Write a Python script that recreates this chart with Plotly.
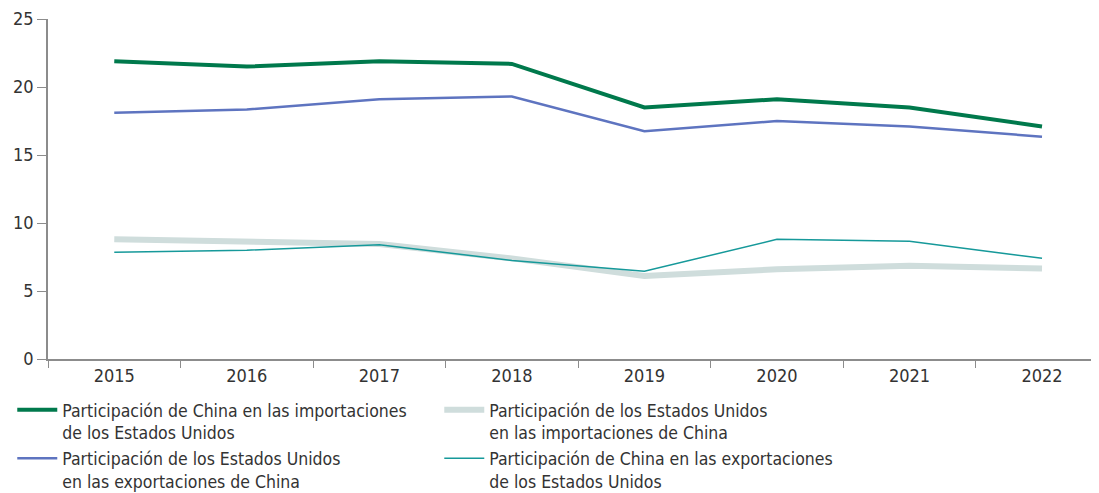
import plotly.graph_objects as go

years = ["2015", "2016", "2017", "2018", "2019", "2020", "2021", "2022"]

china_in_us_imports = [21.9, 21.5, 21.9, 21.7, 18.5, 19.1, 18.5, 17.1]
us_in_china_imports = [8.8, 8.65, 8.45, 7.4, 6.1, 6.6, 6.85, 6.65]
us_in_china_exports = [18.1, 18.35, 19.1, 19.3, 16.75, 17.5, 17.1, 16.35]
china_in_us_exports = [7.85, 8.0, 8.4, 7.25, 6.45, 8.8, 8.65, 7.4]

names = [
    "Participación de China en las importaciones<br>de los Estados Unidos",
    "Participación de los Estados Unidos<br>en las importaciones de China",
    "Participación de los Estados Unidos<br>en las exportaciones de China",
    "Participación de China en las exportaciones<br>de los Estados Unidos",
]

font_name = "DejaVu Sans Condensed, Liberation Sans Narrow, sans-serif"

fig = go.Figure()
# gray line first so the teal one sits on top of it
fig.add_trace(go.Scatter(x=years, y=us_in_china_imports, mode="lines", name=names[1],
                         legendrank=2, line=dict(color="#cfdddc", width=6)))
fig.add_trace(go.Scatter(x=years, y=china_in_us_imports, mode="lines", name=names[0],
                         legendrank=1, line=dict(color="#00794c", width=4)))
fig.add_trace(go.Scatter(x=years, y=us_in_china_exports, mode="lines", name=names[2],
                         legendrank=3, line=dict(color="#5e74c0", width=2.5)))
fig.add_trace(go.Scatter(x=years, y=china_in_us_exports, mode="lines", name=names[3],
                         legendrank=4, line=dict(color="#16999a", width=1.5)))

# the page body adds an 8px margin, so the figure is sized to fit the window
fig.update_layout(
    width=1091, height=485,
    margin=dict(l=40, r=0, t=11, b=134, autoexpand=False),
    paper_bgcolor="white", plot_bgcolor="white",
    font=dict(family=font_name, size=18, color="#333333"),
    showlegend=True,
    legend=dict(orientation="h", x=-0.034, xanchor="left", y=-0.097, yanchor="top",
                entrywidth=372, entrywidthmode="pixels", valign="top",
                font=dict(size=17.5, color="#333333"),
                traceorder="normal", tracegroupgap=0, itemwidth=40),
    xaxis=dict(type="category", range=[-0.5, 7.43], showgrid=False, automargin=False,
               showline=True, linecolor="#8c8c8c", linewidth=1.5,
               ticks="outside", tickson="boundaries", ticklen=7, tickcolor="#8c8c8c",
               tickfont=dict(size=18)),
    yaxis=dict(range=[0, 25], dtick=5, showgrid=False, zeroline=False, automargin=False,
               showline=True, linecolor="#8c8c8c", linewidth=1.5,
               ticks="outside", ticklen=9, tickcolor="#8c8c8c",
               tickfont=dict(size=18)),
)

fig.write_html("out.html")
